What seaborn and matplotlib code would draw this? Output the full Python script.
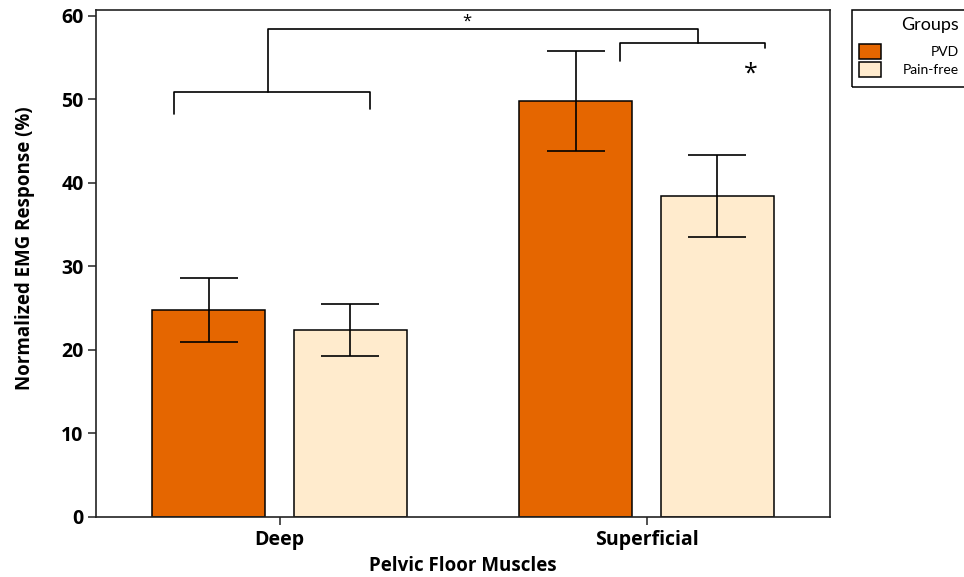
import numpy as np
import pandas as pd
import matplotlib
matplotlib.use('Agg')
import matplotlib.pyplot as plt
import seaborn as sns
from matplotlib.patches import Patch, Rectangle

# Dados
muscles = ['Deep', 'Superficial']
groups = ['PVD', 'Pain-free']
pvd_mean = [24.8, 49.8]
pvd_sd = [3.8, 6.0]
painfree_mean = [22.4, 38.4]
painfree_sd = [3.1, 4.9]
colors = ['#E56600', '#FFEBCD']

sns.set_style('ticks')
plt.rcParams['font.family'] = ['Open Sans', 'DejaVu Sans']
plt.rcParams['text.color'] = 'black'
plt.rcParams['xtick.color'] = 'black'
plt.rcParams['ytick.color'] = 'black'
plt.rcParams['axes.labelcolor'] = 'black'

df = pd.DataFrame({
    'muscle': muscles * 2,
    'group': [groups[0]] * 2 + [groups[1]] * 2,
    'value': pvd_mean + painfree_mean,
    'sd': pvd_sd + painfree_sd,
})

W, H = 964, 577
fig = plt.figure(figsize=(W / 100, H / 100), dpi=100)
ax = fig.add_axes([96 / W, 1 - 517 / H, (830 - 96) / W, (517 - 10) / H])

sns.barplot(data=df, x='muscle', y='value', hue='group', palette=colors,
            order=muscles, hue_order=groups, width=0.773, gap=0.207,
            errorbar=None, edgecolor='black', linewidth=1.1, legend=False,
            saturation=1, ax=ax)

# Barras de erro (desvio padrão)
for cont, g in zip(ax.containers, groups):
    sub = df[df['group'] == g].set_index('muscle').loc[muscles]
    xs = [b.get_x() + b.get_width() / 2 for b in cont]
    ax.errorbar(xs, sub['value'], yerr=sub['sd'], fmt='none', ecolor='black',
                elinewidth=1.2, capsize=21, capthick=1.2, zorder=5)

ax.set_xlim(-0.5, 1.5)
ax.set_ylim(0, 60.7)
ax.set_yticks(range(0, 61, 10))
for s in ax.spines.values():
    s.set_visible(True)
    s.set_linewidth(1.2)
    s.set_color('#222222')
ax.tick_params(axis='both', length=6, width=1.1, color='#222222',
               labelsize=14, pad=3)
for lab in ax.get_xticklabels() + ax.get_yticklabels():
    lab.set_fontweight('bold')
ax.set_xlabel('Pelvic Floor Muscles', fontsize=13.5, fontweight='bold', labelpad=5)
ax.set_ylabel('Normalized EMG Response (%)', fontsize=13.5, fontweight='bold')
ax.yaxis.set_label_coords(-0.083, 0.53)

# Colchetes de significância
kw = dict(color='black', lw=1.2, clip_on=False)
ax.plot([-0.287, -0.287, 0.246, 0.246], [48.3, 50.9, 50.9, 48.9], **kw)
ax.plot([-0.032, -0.032, 1.139, 1.139], [50.9, 58.4, 58.4, 56.8], **kw)
ax.plot([0.928, 0.928, 1.322, 1.322], [54.6, 56.7, 56.7, 56.2], **kw)
ax.text(0.511, 58.3, '*', ha='center', va='bottom', fontsize=12)
ax.text(1.284, 51.5, '*', ha='center', va='bottom', fontsize=18)

handles = [Patch(facecolor=c, edgecolor='black', linewidth=1.1) for c in colors]
leg = fig.legend(handles=handles, labels=groups, title='Groups',
                 loc='upper left', bbox_to_anchor=(852 / W, 1 - 10 / H),
                 frameon=False, prop={'family': 'Lato', 'size': 10},
                 title_fontproperties={'family': 'Lato', 'size': 13},
                 handlelength=1.58, handleheight=1.3, borderaxespad=0,
                 borderpad=0.5, labelspacing=0.2, handletextpad=1.15,
                 alignment='right')
# espaço extra entre o título e as entradas
leg._legend_box.sep = 8

# Rótulos da legenda alinhados à direita: cada linha ocupa a mesma largura
for col in leg._legend_handle_box.get_children():
    for item in col.get_children():
        item.mode = 'expand'
        item.width = 100

# Moldura da legenda
fig.add_artist(Rectangle((852 / W, 1 - 87 / H), 0.2, (87 - 10) / H,
                         transform=fig.transFigure, fill=False,
                         edgecolor='black', linewidth=1.1, clip_on=False))

fig.savefig('out.png', dpi=100)
